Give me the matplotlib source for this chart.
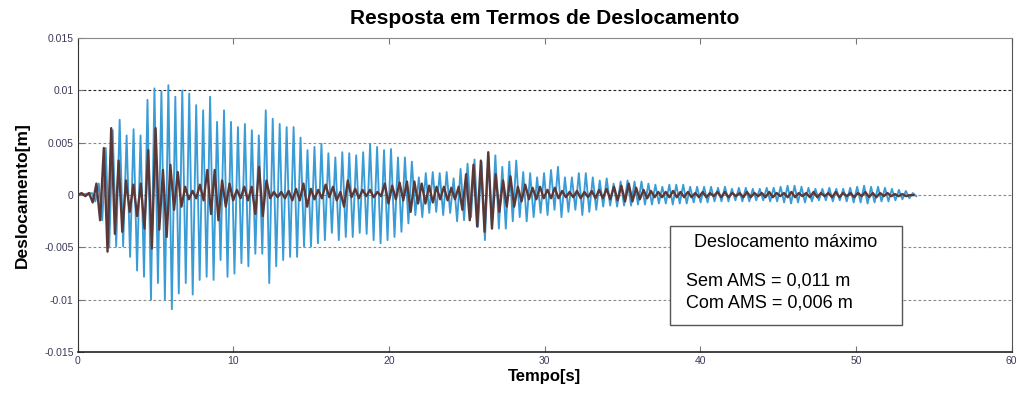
import numpy as np
import matplotlib
matplotlib.use('Agg')
import matplotlib.pyplot as plt
from matplotlib.patches import Rectangle
from matplotlib.ticker import FuncFormatter

# ─── Data: displacement extrema per oscillation cycle ─────────────────────────
# Sem AMS (without damper): one peak + one trough per cycle
SEM_T0 = 0.90          # time of first peak [s]
SEM_PERIOD = 0.447     # cycle length [s]
sem_peaks = [
    0.0002, 0.0011, 0.0045, 0.0062, 0.0072, 0.0057, 0.0063, 0.0057, 0.0091, 0.0102,
    0.0099, 0.0105, 0.0094, 0.0100, 0.0097, 0.0086, 0.0081, 0.0094, 0.0070, 0.0081,
    0.0070, 0.0065, 0.0068, 0.0062, 0.0057, 0.0081, 0.0073, 0.0068, 0.0065, 0.0065,
    0.0055, 0.0043, 0.0046, 0.0049, 0.0040, 0.0036, 0.0041, 0.0040, 0.0038, 0.0041,
    0.0049, 0.0046, 0.0043, 0.0044, 0.0036, 0.0036, 0.0032, 0.0017, 0.0021, 0.0022,
    0.0021, 0.0022, 0.0016, 0.0025, 0.0030, 0.0034, 0.0032, 0.0038, 0.0038, 0.0027,
    0.0032, 0.0033, 0.0022, 0.0021, 0.0017, 0.0021, 0.0024, 0.0027, 0.0017, 0.0017,
    0.0021, 0.0021, 0.0017, 0.0014, 0.0016, 0.0011, 0.0013, 0.0014, 0.0013, 0.0013,
    0.0011, 0.0010, 0.0008, 0.0010, 0.0010, 0.0010, 0.0008, 0.0008, 0.0008, 0.0008,
    0.0007, 0.0008, 0.0006, 0.0007, 0.0007, 0.0006, 0.0006, 0.0007, 0.0007, 0.0008,
    0.0009, 0.0009, 0.0008, 0.0007, 0.0006, 0.0006, 0.0007, 0.0006, 0.0006, 0.0007,
    0.0008, 0.0009, 0.0008, 0.0008, 0.0007, 0.0006, 0.0005, 0.0004, 0.0002,
]
sem_troughs = [
    -0.0006, -0.0024, -0.0050, -0.0049, -0.0049, -0.0059, -0.0072, -0.0078, -0.0100, -0.0084,
    -0.0100, -0.0109, -0.0094, -0.0084, -0.0095, -0.0081, -0.0078, -0.0081, -0.0062, -0.0078,
    -0.0075, -0.0065, -0.0068, -0.0056, -0.0056, -0.0084, -0.0068, -0.0062, -0.0059, -0.0059,
    -0.0049, -0.0049, -0.0046, -0.0043, -0.0036, -0.0043, -0.0040, -0.0040, -0.0036, -0.0037,
    -0.0043, -0.0046, -0.0043, -0.0040, -0.0035, -0.0027, -0.0019, -0.0021, -0.0017, -0.0016,
    -0.0019, -0.0017, -0.0025, -0.0024, -0.0021, -0.0030, -0.0043, -0.0030, -0.0032, -0.0032,
    -0.0025, -0.0021, -0.0025, -0.0021, -0.0017, -0.0019, -0.0014, -0.0021, -0.0016, -0.0014,
    -0.0019, -0.0016, -0.0014, -0.0011, -0.0010, -0.0011, -0.0010, -0.0010, -0.0009, -0.0009,
    -0.0009, -0.0008, -0.0008, -0.0009, -0.0008, -0.0008, -0.0007, -0.0007, -0.0007, -0.0006,
    -0.0006, -0.0006, -0.0005, -0.0006, -0.0006, -0.0005, -0.0005, -0.0006, -0.0006, -0.0007,
    -0.0008, -0.0007, -0.0007, -0.0006, -0.0005, -0.0005, -0.0006, -0.0005, -0.0006, -0.0007,
    -0.0007, -0.0008, -0.0007, -0.0006, -0.0006, -0.0005, -0.0004, -0.0003, -0.0001,
]

# Com AMS (with damper)
COM_T0 = 0.245
COM_PERIOD = 0.475
com_peaks = [
    0.0002, 0.0002, 0.0011, 0.0045, 0.0064, 0.0033, 0.0014, 0.0010, 0.0011, 0.0043,
    0.0064, 0.0024, 0.0029, 0.0022, 0.0008, 0.0004, 0.0010, 0.0024, 0.0024, 0.0014,
    0.0011, 0.0005, 0.0008, 0.0008, 0.0027, 0.0014, 0.0003, 0.0003, 0.0004, 0.0006,
    0.0011, 0.0006, 0.0005, 0.0010, 0.0008, 0.0003, 0.0014, 0.0006, 0.0005, 0.0005,
    0.0003, 0.0011, 0.0009, 0.0012, 0.0013, 0.0013, 0.0011, 0.0009, 0.0008, 0.0008,
    0.0007, 0.0008, 0.0020, 0.0029, 0.0033, 0.0041, 0.0020, 0.0014, 0.0018, 0.0008,
    0.0010, 0.0007, 0.0008, 0.0005, 0.0007, 0.0004, 0.0003, 0.0004, 0.0003, 0.0004,
    0.0005, 0.0006, 0.0008, 0.0009, 0.0011, 0.0007, 0.0005, 0.0004, 0.0003, 0.0003,
    0.0004, 0.0003, 0.0003, 0.0002, 0.0003, 0.0002, 0.0003, 0.0003, 0.0002, 0.0002,
    0.0003, 0.0002, 0.0002, 0.0003, 0.0002, 0.0002, 0.0003, 0.0002, 0.0002, 0.0003,
    0.0002, 0.0002, 0.0003, 0.0002, 0.0002, 0.0002, 0.0003, 0.0002, 0.0002, 0.0002,
    0.0001, 0.0001, 0.0000,
]
com_troughs = [
    -0.0001, -0.0007, -0.0024, -0.0054, -0.0037, -0.0035, -0.0016, -0.0020, -0.0032, -0.0051,
    -0.0033, -0.0040, -0.0014, -0.0011, -0.0004, -0.0003, -0.0005, -0.0018, -0.0024, -0.0011,
    -0.0005, -0.0003, -0.0005, -0.0018, -0.0020, -0.0003, -0.0002, -0.0003, -0.0005, -0.0005,
    -0.0011, -0.0004, -0.0003, -0.0002, -0.0005, -0.0011, -0.0002, -0.0003, -0.0001, -0.0002,
    -0.0001, -0.0008, -0.0004, -0.0005, -0.0016, -0.0008, -0.0008, -0.0007, -0.0004, -0.0005,
    -0.0004, -0.0014, -0.0024, -0.0030, -0.0035, -0.0032, -0.0016, -0.0011, -0.0011, -0.0006,
    -0.0004, -0.0004, -0.0003, -0.0003, -0.0003, -0.0002, -0.0002, -0.0003, -0.0002, -0.0003,
    -0.0003, -0.0004, -0.0005, -0.0006, -0.0006, -0.0004, -0.0003, -0.0002, -0.0002, -0.0002,
    -0.0002, -0.0002, -0.0002, -0.0002, -0.0002, -0.0001, -0.0002, -0.0002, -0.0001, -0.0002,
    -0.0002, -0.0001, -0.0002, -0.0002, -0.0001, -0.0002, -0.0002, -0.0001, -0.0002, -0.0002,
    -0.0001, -0.0002, -0.0002, -0.0001, -0.0002, -0.0001, -0.0002, -0.0002, -0.0001, -0.0001,
    -0.0001, -0.0001, 0.0000,
]

x_ticks = [0, 10, 20, 30, 40, 50, 60]
y_ticks = [-0.015, -0.01, -0.005, 0, 0.005, 0.01, 0.015]


def build_series(t0, period, peaks, troughs):
    """Interleave peak/trough values on their time grid, starting from rest."""
    k = np.arange(len(peaks))
    t_pk = t0 + period * k
    t_tr = t_pk + period / 2
    t = np.empty(2 * len(k))
    y = np.empty(2 * len(k))
    t[0::2], t[1::2] = t_pk, t_tr
    y[0::2], y[1::2] = peaks, troughs
    return np.concatenate([[0.0], t]), np.concatenate([[0.0], y])


t_sem, u_sem = build_series(SEM_T0, SEM_PERIOD, sem_peaks, sem_troughs)
t_com, u_com = build_series(COM_T0, COM_PERIOD, com_peaks, com_troughs)

plt.rcParams['font.family'] = ['Liberation Sans', 'DejaVu Sans']

fig = plt.figure(figsize=(10.24, 3.97), dpi=100)
ax = fig.add_axes([0.076, 0.113, 0.912, 0.791])

# horizontal reference lines
for yv in y_ticks[1:-1]:
    ax.axhline(yv, color='#222222' if yv == 0.01 else '#8a8a8a',
               linestyle=(0, (2.5, 2)), linewidth=0.8, zorder=1)

ax.plot(t_sem, u_sem, color='#3A9CD6', linewidth=1.35, zorder=2)
ax.plot(t_com, u_com, color='#5B3838', linewidth=1.7, zorder=3)

ax.set_xlim(0, 60)
ax.set_ylim(-0.015, 0.015)
ax.set_xticks(x_ticks)
ax.set_yticks(y_ticks)
ax.yaxis.set_major_formatter(FuncFormatter(lambda v, p: f'{round(v, 4):g}'))
ax.tick_params(direction='in', length=4, width=0.8, color='#777777',
               labelsize=7.5, labelcolor='#3a3a5a', top=True, right=False, pad=3)
for side, col in [('left', '#333333'), ('bottom', '#222222'),
                  ('top', '#888888'), ('right', '#555555')]:
    ax.spines[side].set_color(col)
ax.spines['bottom'].set_linewidth(1.2)

ax.set_title('Resposta em Termos de Deslocamento', fontsize=15,
             fontweight='bold', pad=10)
ax.set_xlabel('Tempo[s]', fontsize=12, fontweight='bold', labelpad=2)
ax.set_ylabel('Deslocamento[m]', fontsize=12.5, fontweight='bold', labelpad=10)

# summary box with peak displacements
box = Rectangle((0.634, 0.086), 0.249, 0.315, transform=ax.transAxes,
                facecolor='white', edgecolor='#555555', linewidth=1.0, zorder=5)
ax.add_patch(box)
max_sem = np.max(np.abs(u_sem))
max_com = np.max(np.abs(u_com))
ax.text(0.758, 0.348, 'Deslocamento máximo', transform=ax.transAxes,
        ha='center', va='center', fontsize=13, zorder=6)
ax.text(0.651, 0.225, f'Sem AMS = {max_sem:.3f} m'.replace('.', ','),
        transform=ax.transAxes, ha='left', va='center', fontsize=13, zorder=6)
ax.text(0.651, 0.158, f'Com AMS = {max_com:.3f} m'.replace('.', ','),
        transform=ax.transAxes, ha='left', va='center', fontsize=13, zorder=6)

fig.savefig('out.png', dpi=100, facecolor='white')
